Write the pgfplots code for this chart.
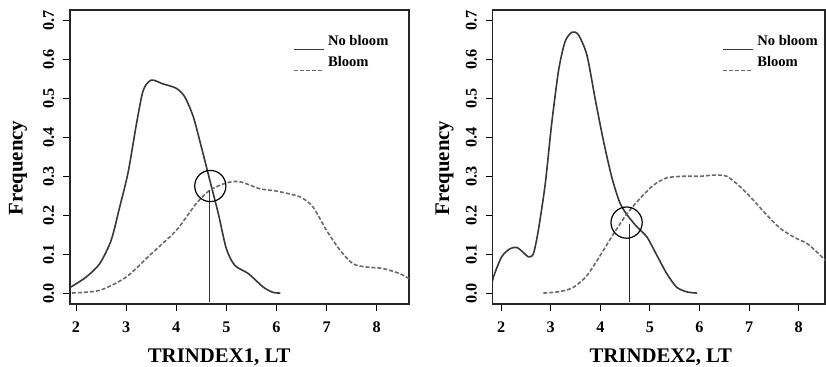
\documentclass[border=0pt]{standalone}
\usepackage{pgfplots}
\pgfplotsset{compat=1.18}
\usepackage{fontspec}
\setmainfont{Liberation Serif}
\definecolor{solidc}{HTML}{383838}
\definecolor{dashc}{HTML}{6A6A6A}
\pgfplotsset{
  rstyle/.style={
    scale only axis,
    height=147pt,
    ymin=-0.028, ymax=0.727,
    ytick={0,0.1,...,0.7},
    xtick={2,3,4,5,6,7,8},
    tick align=outside,
    major tick length=3.5pt,
    tick style={black, line width=0.5pt},
    axis line style={line width=0.6pt, black!85},
    xtick pos=bottom, ytick pos=left,
    /pgf/number format/assume math mode=true,
    tick label style={font=\fontsize{8.1}{9}\selectfont\bfseries},
    yticklabel style={/pgf/number format/fixed, /pgf/number format/fixed zerofill, /pgf/number format/precision=1, anchor=base, xshift=-4.5pt, rotate=90},
    xticklabel style={anchor=base, yshift=-11pt},
    label style={font=\fontsize{10.4}{12}\selectfont\bfseries},
    legend style={draw=none, fill=none, font=\fontsize{7.3}{9.2}\selectfont\bfseries, inner sep=0pt, row sep=0pt, cells={anchor=west}},
    legend image code/.code={\draw[#1, line width=0.45pt] (0pt,-0.9ex) -- (15pt,-0.9ex);},
    legend cell align=left,
    clip=true,
  },
  nob/.style={solidc, line width=0.8pt, smooth, tension=0.45},
  blm/.style={dashc, line width=0.8pt, dash pattern=on 2pt off 1pt, smooth, tension=0.45},
}
\begin{document}
\begin{tikzpicture}
\useasboundingbox (0,0) rectangle (413pt,183.5pt);
\begin{axis}[rstyle, at={(35pt,31.5pt)}, anchor=south west, width=169.5pt,
  xmin=1.88, xmax=8.645,
  xlabel={TRINDEX1, LT}, ylabel={Frequency},
  xlabel style={at={(axis description cs:0.44,-0.2007)}, anchor=base},
  ylabel style={at={(axis description cs:-0.153,0.463)}, anchor=center, rotate=0},
  legend style={at={(axis description cs:0.657,0.93)}, anchor=north west}]
\addplot[nob] coordinates {(1.80,0.008) (1.89,0.015) (2.2,0.041) (2.47,0.075) (2.7,0.135) (2.87,0.22) (3.04,0.31) (3.2,0.43) (3.34,0.52) (3.5,0.547) (3.74,0.537) (4.0,0.526) (4.17,0.504) (4.34,0.453) (4.5,0.376) (4.67,0.29) (4.84,0.204) (5.0,0.114) (5.17,0.071) (5.44,0.05) (5.74,0.015) (5.93,0.002) (6.08,0.0)};
\addlegendentry{No bloom}
\addplot[blm] coordinates {(1.80,0.0) (1.89,0.0) (2.47,0.007) (3.0,0.041) (3.47,0.097) (4.0,0.161) (4.4,0.23) (4.67,0.264) (5.0,0.283) (5.27,0.286) (5.67,0.268) (6.0,0.262) (6.47,0.247) (6.73,0.221) (7.0,0.161) (7.27,0.11) (7.53,0.075) (7.8,0.067) (8.13,0.063) (8.46,0.05) (8.65,0.037) (8.75,0.03)};
\addlegendentry{Bloom}
\addplot[black!80, line width=0.75pt, forget plot] coordinates {(4.66,0.264) (4.66,-0.023)};
\addplot[only marks, mark=o, mark size=7.8pt, mark options={line width=0.6pt, black}, forget plot] coordinates {(4.68,0.275)};
\end{axis}
\begin{axis}[rstyle, at={(246.35pt,31.5pt)}, anchor=south west, width=166.15pt,
  xmin=1.83, xmax=8.53,
  xlabel={TRINDEX2, LT}, ylabel={Frequency},
  xlabel style={at={(axis description cs:0.506,-0.2007)}, anchor=base},
  ylabel style={at={(axis description cs:-0.145,0.463)}, anchor=center},
  legend style={at={(axis description cs:0.69,0.93)}, anchor=north west}]
\addplot[nob] coordinates {(1.78,0.0) (1.845,0.041) (2.01,0.093) (2.18,0.114) (2.32,0.117) (2.45,0.104) (2.55,0.093) (2.65,0.101) (2.75,0.161) (2.89,0.281) (3.02,0.436) (3.16,0.573) (3.29,0.646) (3.43,0.67) (3.56,0.663) (3.73,0.611) (3.9,0.496) (4.06,0.393) (4.23,0.298) (4.4,0.23) (4.57,0.196) (4.74,0.17) (4.94,0.144) (5.14,0.097) (5.34,0.05) (5.54,0.015) (5.75,0.003) (5.95,0.0)};
\addlegendentry{No bloom}
\addplot[blm] coordinates {(2.85,0.0) (3.19,0.004) (3.46,0.015) (3.73,0.045) (4.0,0.097) (4.27,0.153) (4.54,0.204) (4.8,0.243) (5.07,0.277) (5.34,0.296) (5.68,0.3) (6.02,0.3) (6.28,0.303) (6.55,0.3) (6.82,0.273) (7.09,0.238) (7.36,0.2) (7.63,0.166) (7.9,0.144) (8.17,0.127) (8.37,0.105) (8.54,0.084) (8.65,0.07)};
\addlegendentry{Bloom}
\addplot[black!85, line width=0.75pt, forget plot] coordinates {(4.59,0.178) (4.59,-0.023)};
\addplot[only marks, mark=o, mark size=7.8pt, mark options={line width=0.6pt, black}, forget plot] coordinates {(4.53,0.181)};
\end{axis}
\end{tikzpicture}
\end{document}
